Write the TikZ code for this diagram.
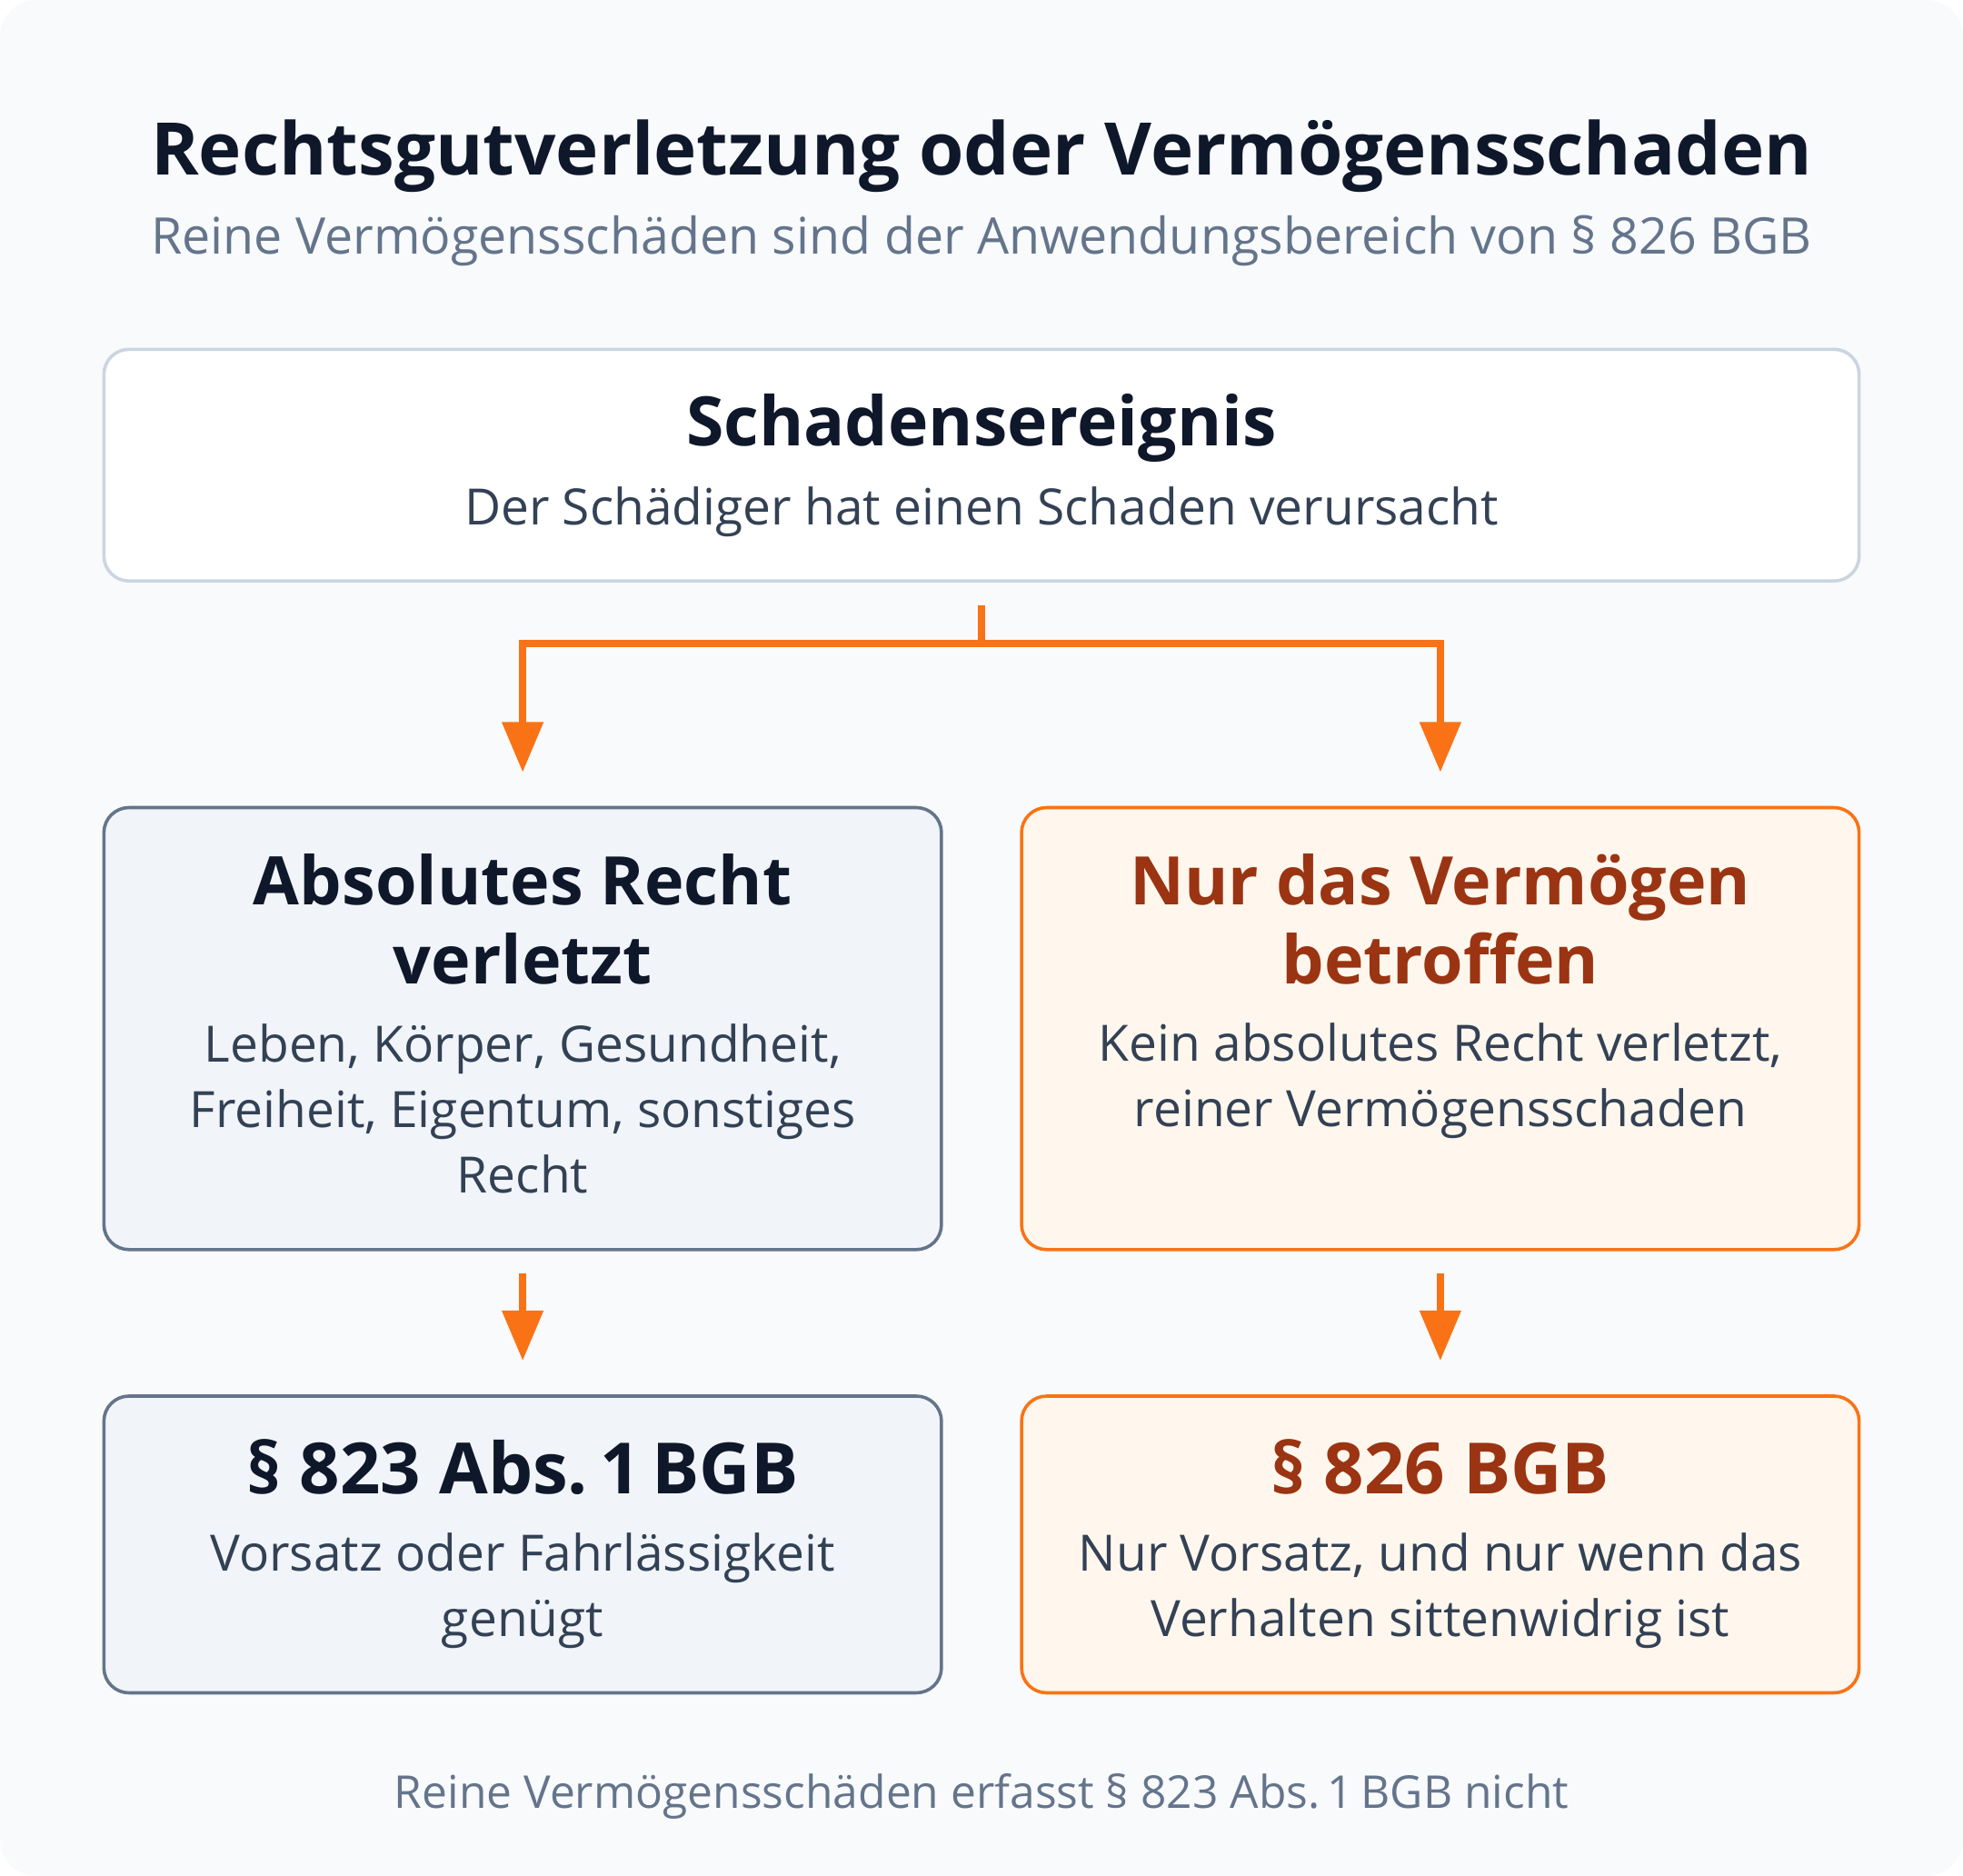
\documentclass[tikz,border=0pt]{standalone}
\usepackage{fontspec}
\setmainfont{Open Sans}
\usetikzlibrary{arrows.meta}
\definecolor{bgc}{HTML}{F8FAFC}
\definecolor{ink}{HTML}{0F172A}
\definecolor{body}{HTML}{334155}
\definecolor{muted}{HTML}{64748B}
\definecolor{topborder}{HTML}{CBD5E1}
\definecolor{slatefill}{HTML}{F1F5F9}
\definecolor{slateborder}{HTML}{64748B}
\definecolor{orfill}{HTML}{FFF7ED}
\definecolor{orborder}{HTML}{F97316}
\definecolor{ortitle}{HTML}{9A3412}
\tikzset{
  box/.style={draw, rounded corners=20pt, line width=2.6pt, inner sep=0pt},
  topbox/.style={box, fill=white, draw=topborder, minimum width=1402pt, minimum height=185pt},
  slatebox/.style={box, fill=slatefill, draw=slateborder, minimum width=669pt},
  orbox/.style={box, fill=orfill, draw=orborder, minimum width=669pt},
  txt/.style={anchor=base, inner sep=0pt, align=center},
  ttl/.style={txt, font=\fontsize{58}{62}\selectfont\bfseries, text=ink},
  sub/.style={txt, font=\fontsize{40.3}{44}\selectfont, text=muted},
  btitle/.style={txt, font=\fontsize{53.5}{63}\selectfont\bfseries},
  ptitle/.style={txt, font=\fontsize{56.5}{63}\selectfont\bfseries},
  btxt/.style={txt, font=\fontsize{40}{52.5}\selectfont, text=body},
  conn/.style={draw=orborder, line width=5.5pt, line join=miter},
  arr/.style={conn, -{Triangle[length=40pt, width=32pt]}},
}
\begin{document}
\begin{tikzpicture}[x=1pt, y=-1pt]
\useasboundingbox (0,0) rectangle (1568,1498.3);
\fill[bgc, rounded corners=29pt] (0,0) rectangle (1568,1498.3);

\node[ttl] (title) at (784,140) {Rechtsgutverletzung oder Vermögensschaden};
\node[sub] (subtitle) at (784,203) {Reine Vermögensschäden sind der Anwendungsbereich von § 826 BGB};

\node[topbox] (ev) at (784,371.5) {};
\node[btitle, font=\fontsize{54.5}{63}\selectfont\bfseries, text=ink] (evt) at (784,356) {Schadensereignis};
\node[btxt] (evb) at (784,419) {Der Schädiger hat einen Schaden verursacht};

\node[slatebox, minimum height=353pt] (abs) at (417.5,821.5) {};
\node[btitle, text=ink] (abst) at (417.5,786) {Absolutes Recht\\verletzt};
\node[btxt] (absb) at (417.5,953) {Leben, Körper, Gesundheit,\\Freiheit, Eigentum, sonstiges\\Recht};

\node[orbox, minimum height=353pt] (verm) at (1150.5,821.5) {};
\node[btitle, text=ortitle] (vermt) at (1150.5,786) {Nur das Vermögen\\betroffen};
\node[btxt] (vermb) at (1150.5,900) {Kein absolutes Recht verletzt,\\reiner Vermögensschaden};

\node[slatebox, minimum height=237pt] (p823) at (417.5,1233.5) {};
\node[ptitle, text=ink] (p823t) at (417.5,1193) {§ 823 Abs.\,1\,BGB};
\node[btxt] (p823b) at (417.5,1307) {Vorsatz oder Fahrlässigkeit\\genügt};

\node[orbox, minimum height=237pt] (p826) at (1150.5,1233.5) {};
\node[ptitle, text=ortitle] (p826t) at (1150.5,1193) {§ 826 BGB};
\node[btxt] (p826b) at (1150.5,1307) {Nur Vorsatz, und nur wenn das\\Verhalten sittenwidrig ist};

\node[sub, font=\fontsize{36.1}{40}\selectfont] (foot) at (784,1444) {Reine Vermögensschäden erfasst § 823 Abs.\,1\,BGB nicht};

\coordinate (stem) at ([yshift=-18pt]ev.south);
\coordinate (junc) at (784,514);
\draw[conn] (stem) -- (junc);
\draw[arr] (junc) -| ([yshift=27pt]abs.north);
\draw[arr] (junc) -| ([yshift=27pt]verm.north);
\draw[arr] ([yshift=-18pt]abs.south) -- ([yshift=27pt]p823.north);
\draw[arr] ([yshift=-18pt]verm.south) -- ([yshift=27pt]p826.north);
\end{tikzpicture}
\end{document}
